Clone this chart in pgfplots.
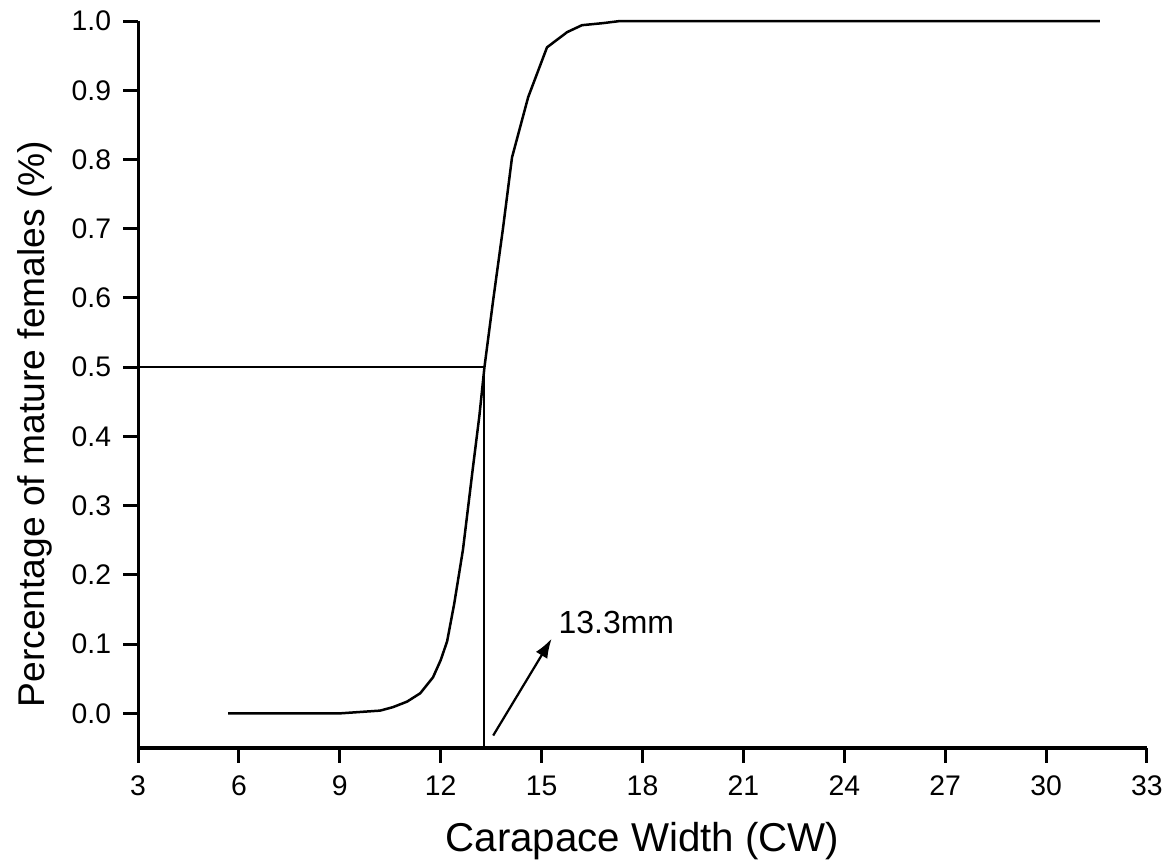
\documentclass[border=0pt]{standalone}
\usepackage{pgfplots}
\pgfplotsset{compat=1.18}
\usetikzlibrary{arrows.meta}
\usepackage{fontspec}
\setmainfont{Liberation Sans}
\begin{document}
\begin{tikzpicture}
\begin{axis}[
  scale only axis,
  width=363.2pt, height=261.7pt,
  xmin=3, xmax=33, ymin=-0.05, ymax=1.0,
  axis x line*=bottom, axis y line*=left,
  axis line style={line width=1.1pt},
  xtick={3,6,...,33},
  ytick={0,0.1,...,1.0},
  tick style={line width=1.1pt, black},
  tick align=outside,
  major tick length=5.4pt,
  /pgf/number format/assume math mode=true,
  yticklabel style={/pgf/number format/fixed, /pgf/number format/fixed zerofill, /pgf/number format/precision=1, xshift=-0.8pt},
  xticklabel style={yshift=-1pt},
  ticklabel style={font=\fontsize{10.2}{12}\selectfont},
  xlabel={Carapace Width (CW)},
  ylabel={Percentage of mature females (\%)},
  xlabel style={font=\fontsize{14.5}{16}\selectfont, at={(axis description cs:0.5,-0.143)}, anchor=base, inner sep=0pt},
  ylabel style={font=\fontsize{13.4}{15}\selectfont, at={(axis description cs:-0.1205,0.4457)}, anchor=north, inner sep=0pt},
  clip=false,
]
\coordinate (O) at (rel axis cs:0,0);
\addplot[black, line width=0.9pt] coordinates {
(5.68,0) (7.0,0) (8.0,0) (9.0,0) (9.6,0.002) (10.2,0.004) (10.58,0.009) (11.0,0.017) (11.39,0.029) (11.77,0.052) (12.0,0.077) (12.19,0.104) (12.4,0.158) (12.66,0.236) (12.96,0.356) (13.15,0.43) (13.3,0.50) (13.56,0.597) (13.85,0.70) (14.12,0.803) (14.6,0.89) (15.16,0.962) (15.76,0.984) (16.2,0.994) (16.83,0.997) (17.33,1.0) (20,1.0) (25,1.0) (31.6,1.0)
};
\addplot[black, line width=0.8pt] coordinates {(3,0.5) (13.28,0.5) (13.28,-0.05)};
\addplot[black, line width=0.8pt, -{Latex[length=7pt,width=4.8pt]}] coordinates {(13.56,-0.032) (15.30,0.108)};
\node[anchor=west, inner sep=0pt, font=\fontsize{11.5}{13}\selectfont] at (axis cs:15.49,0.1315) {13.3mm};
\end{axis}
\pgfresetboundingbox
\path (O) ++(-49.7pt,-43.2pt) rectangle ++(420.12pt,312.48pt);
\end{tikzpicture}
\end{document}
